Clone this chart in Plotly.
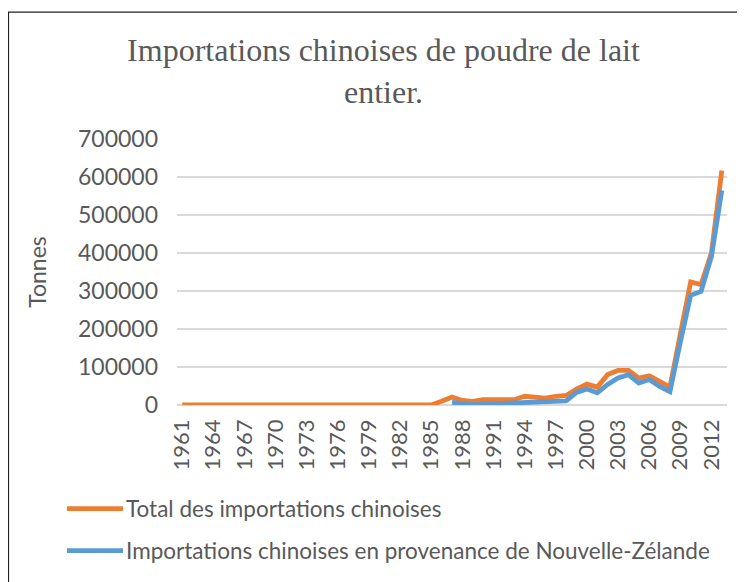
import plotly.graph_objects as go

years = list(range(1961, 2014))

total_imports = [0] * 24 + [
    0, 10000, 21000, 12000, 9500, 14000, 14000, 13000, 14000, 23000,
    19000, 18000, 23000, 25000, 42000, 55000, 47000, 80000, 91000, 91000,
    71000, 77000, 62000, 47000, 186000, 324000, 317000, 400000, 617000,
]

nz_imports = [None] * 26 + [
    7000, 3000, 1000, 2000, 3000, 3000, 3000, 7000, 5000, 7000,
    10000, 11000, 33000, 42000, 32000, 54000, 71000, 80000, 58000, 67000,
    49000, 35000, 165000, 289000, 299000, 391000, 565000,
]

tick_years = list(range(1961, 2013, 3))
y_ticks = [0, 100000, 200000, 300000, 400000, 500000, 600000, 700000]

title_text = "Importations chinoises de poudre de lait<br>entier."
y_title = "Tonnes"
name_total = "Total des importations chinoises"
name_nz = "Importations chinoises en provenance de Nouvelle-Zélande"

ORANGE = "#ED7D31"
BLUE = "#5B9BD5"
GREY = "#595959"
FONT = "Lato"

# page body has an 8px margin; figure sized to fill the remaining window
W, H = 737, 574
L, T = 169, 131
R = W - 719
B = H - 397.3
pw = W - L - R
ph = H - T - B


def px_x(px):
    return (px - L) / pw


def px_y(py):
    return (H - B - py) / ph


fig = go.Figure()
fig.add_trace(go.Scatter(
    x=years, y=total_imports, mode="lines", name=name_total,
    line=dict(color=ORANGE, width=4.8),
))
fig.add_trace(go.Scatter(
    x=years, y=nz_imports, mode="lines", name=name_nz,
    line=dict(color=BLUE, width=4.8),
))

legend_items = [(name_total, ORANGE, 501), (name_nz, BLUE, 543)]
shapes = [dict(type="rect", xref="paper", yref="paper",
               x0=px_x(0.5), x1=px_x(732), y0=px_y(600), y1=px_y(4),
               line=dict(color="#222222", width=1.2), layer="below")]
annotations = []
for name, color, yc in legend_items:
    shapes.append(dict(type="line", xref="paper", yref="paper",
                       x0=px_x(59), x1=px_x(115), y0=px_y(yc), y1=px_y(yc),
                       line=dict(color=color, width=4.8)))
    annotations.append(dict(text=name, xref="paper", yref="paper",
                            x=px_x(116), y=px_y(yc), xanchor="left",
                            yanchor="middle", showarrow=False,
                            font=dict(family=FONT, size=22.5, color=GREY)))

fig.update_layout(
    width=W, height=H,
    margin=dict(l=L, r=R, t=T, b=B, autoexpand=False),
    paper_bgcolor="white", plot_bgcolor="white",
    title=dict(text=title_text, x=375.5 / W, xanchor="center",
               y=1 - 53 / H, yanchor="middle", yref="container",
               font=dict(family="Liberation Serif", size=32, color=GREY)),
    xaxis=dict(range=[1960.5, 2013.5], tickmode="array", tickvals=tick_years,
               tickangle=-90, showgrid=False, zeroline=False, showline=False,
               ticks="", ticklabelstandoff=9,
               tickfont=dict(family=FONT, size=22, color=GREY)),
    yaxis=dict(range=[0, 700000], tickmode="array", tickvals=y_ticks,
               showgrid=True, gridcolor="#d9d9d9", gridwidth=1.5,
               zeroline=True, zerolinecolor="#d9d9d9", zerolinewidth=1.5,
               showline=False, ticks="", ticklabelstandoff=18,
               tickformat="d",
               tickfont=dict(family=FONT, size=23, color=GREY),
               title=dict(text=y_title, standoff=24,
                          font=dict(family=FONT, size=23, color=GREY))),
    showlegend=False,
    shapes=shapes,
    annotations=annotations,
)

fig.write_html("out.html")
